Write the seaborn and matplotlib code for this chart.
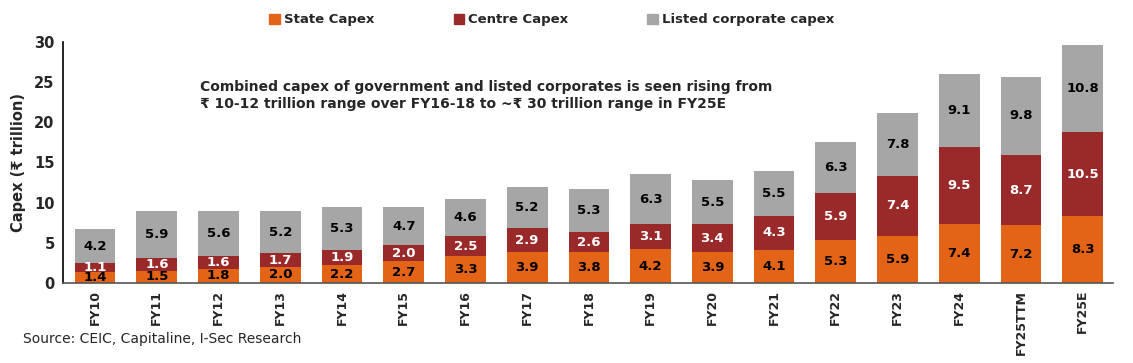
import numpy as np
import pandas as pd
import matplotlib
matplotlib.use("Agg")
import matplotlib.pyplot as plt
import seaborn as sns
from matplotlib.patches import Patch

years = ["FY10", "FY11", "FY12", "FY13", "FY14", "FY15", "FY16", "FY17", "FY18",
         "FY19", "FY20", "FY21", "FY22", "FY23", "FY24", "FY25TTM", "FY25E"]
state = [1.4, 1.5, 1.8, 2.0, 2.2, 2.7, 3.3, 3.9, 3.8, 4.2, 3.9, 4.1, 5.3, 5.9, 7.4, 7.2, 8.3]
centre = [1.1, 1.6, 1.6, 1.7, 1.9, 2.0, 2.5, 2.9, 2.6, 3.1, 3.4, 4.3, 5.9, 7.4, 9.5, 8.7, 10.5]
listed = [4.2, 5.9, 5.6, 5.2, 5.3, 4.7, 4.6, 5.2, 5.3, 6.3, 5.5, 5.5, 6.3, 7.8, 9.1, 9.8, 10.8]

c_state = "#E36416"
c_centre = "#9A2A2A"
c_listed = "#A6A6A6"

sns.set_theme(style="white")
plt.rcParams["font.family"] = ["DejaVu Sans"]

df = pd.DataFrame({"year": years, "state": state, "centre": centre, "listed": listed})
df["sc"] = df["state"] + df["centre"]
df["total"] = df["sc"] + df["listed"]

fig = plt.figure(figsize=(11.33, 3.63), dpi=100)
ax = fig.add_axes([0.0556, 0.2204, 0.9267, 0.6639])

w = 0.66
for col, c in [("total", c_listed), ("sc", c_centre), ("state", c_state)]:
    sns.barplot(data=df, x="year", y=col, color=c, saturation=1, width=w, ax=ax,
                linewidth=0, edgecolor="none")

fs = 9.5
for i, r in df.iterrows():
    ax.text(i, r["state"] / 2, f"{r['state']:.1f}", ha="center", va="center",
            fontsize=fs, fontweight="bold", color="black")
    ax.text(i, r["state"] + r["centre"] / 2, f"{r['centre']:.1f}", ha="center", va="center",
            fontsize=fs, fontweight="bold", color="white")
    ax.text(i, r["sc"] + r["listed"] / 2, f"{r['listed']:.1f}", ha="center", va="center",
            fontsize=fs, fontweight="bold", color="black")

ax.set_ylim(0, 30)
ax.set_yticks([0, 5, 10, 15, 20, 25, 30])
ax.set_xlim(-0.52, len(years) - 1 + 0.49)
ax.set_xlabel("")
ax.set_ylabel("Capex (₹ trillion)", fontsize=10.5, fontweight="bold", labelpad=6)
ax.tick_params(axis="x", rotation=90, labelsize=9, length=0, pad=5)
ax.tick_params(axis="y", labelsize=10.5, length=0, pad=6)
for lab in ax.get_xticklabels() + ax.get_yticklabels():
    lab.set_fontweight("bold")

for s in ["top", "right"]:
    ax.spines[s].set_visible(False)
ax.spines["left"].set_color("black")
ax.spines["left"].set_linewidth(1.2)
ax.spines["bottom"].set_color("#555555")
ax.spines["bottom"].set_linewidth(1.2)

ax.text(1.7, 25.3, "Combined capex of government and listed corporates is seen rising from\n"
        "₹ 10-12 trillion range over FY16-18 to ~₹ 30 trillion range in FY25E",
        fontsize=10, fontweight="bold", ha="left", va="top", linespacing=1.3)

handles = [Patch(color=c_state, label="State Capex"),
           Patch(color=c_centre, label="Centre Capex"),
           Patch(color=c_listed, label="Listed corporate capex")]
fig.legend(handles=handles, loc="center", bbox_to_anchor=(0.487, 0.945), ncol=3, frameon=False,
           prop={"weight": "bold", "size": 9.5}, handlelength=0.8, handleheight=0.8,
           handletextpad=0.3, columnspacing=6.0)

fig.text(0.02, 0.065, "Source: CEIC, Capitaline, I-Sec Research", fontsize=10, ha="left", va="center")

fig.savefig("out.png", dpi=100)
